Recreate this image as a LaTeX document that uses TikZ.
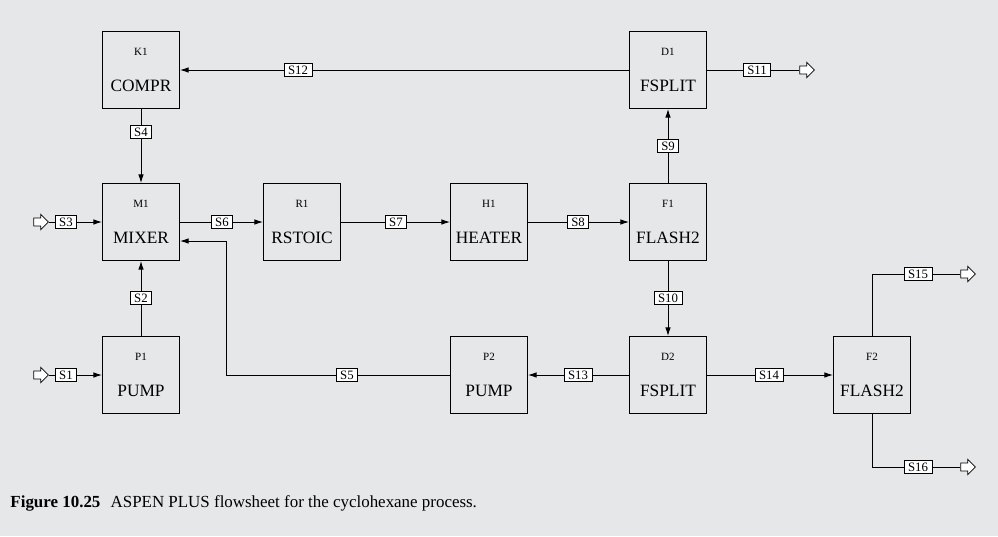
\documentclass[tikz,border=0pt]{standalone}
\usepackage{fontspec}
\setmainfont{Liberation Serif}
\usetikzlibrary{arrows.meta,shapes.arrows,calc}
\definecolor{sheetbg}{RGB}{230,231,233}
\newcommand{\blockid}[1]{{\fontsize{8.3}{9}\selectfont #1}\\[13.5pt]}

\begin{document}
\begin{tikzpicture}[x=0.75pt,y=-0.75pt,>={Latex[length=6.5pt,width=4.2pt]},line width=0.7pt]
  \tikzstyle{unit}=[draw,minimum width=57.75pt,minimum height=57.75pt,align=center,inner sep=0pt,font=\fontsize{13}{14}\selectfont]
  \tikzstyle{stream}=[draw,fill=white,inner xsep=3pt,inner ysep=1.8pt,line width=0.6pt,font=\fontsize{9.6}{10}\selectfont]
  \tikzstyle{feed}=[single arrow,draw,fill=white,line width=0.6pt,minimum height=11pt,inner sep=2.7pt,single arrow head extend=2.7pt]

  \fill[sheetbg] (0,0) rectangle (998,536);
  \useasboundingbox (0,0) rectangle (998,536);

  % unit blocks
  \node[unit] (K1) at (141,70) {\blockid{K1}COMPR};
  \node[unit] (D1) at (668,70) {\blockid{D1}FSPLIT};
  \node[unit] (M1) at (141,222) {\blockid{M1}MIXER};
  \node[unit] (R1) at (302,222) {\blockid{R1}RSTOIC};
  \node[unit] (H1) at (489,222) {\blockid{H1}HEATER};
  \node[unit] (F1) at (668,222) {\blockid{F1}FLASH2};
  \node[unit] (P1) at (141,375) {\blockid{P1}PUMP};
  \node[unit] (P2) at (489,375) {\blockid{P2}PUMP};
  \node[unit] (D2) at (668,375) {\blockid{D2}FSPLIT};
  \node[unit] (F2) at (872,375) {\blockid{F2}FLASH2};

  % feeds and products
  \node[feed] (a3) at (39,222) {};
  \node[feed] (a1) at (39,375) {};
  \node[feed] (a11) at (805,70) {};
  \node[feed] (a15) at (966,274) {};
  \node[feed] (a16) at (966,467) {};

  % stream labels
  \node[stream] (s12) at (298,70) {S12};
  \node[stream] (s11) at (757,70) {S11};
  \node[stream] (s4) at (141,132) {S4};
  \node[stream] (s3) at (66,222) {S3};
  \node[stream] (s6) at (222,222) {S6};
  \node[stream] (s7) at (396,222) {S7};
  \node[stream] (s8) at (578,222) {S8};
  \node[stream] (s9) at (668,146) {S9};
  \node[stream] (s10) at (668,298) {S10};
  \node[stream] (s2) at (141,298) {S2};
  \node[stream] (s1) at (66,375) {S1};
  \node[stream] (s5) at (347,375) {S5};
  \node[stream] (s13) at (578,375) {S13};
  \node[stream] (s14) at (769,375) {S14};
  \node[stream] (s15) at (918,274) {S15};
  \node[stream] (s16) at (918,467) {S16};

  \coordinate (m1in) at ($(M1.east)+(0,19)$);
  \coordinate (m1turn) at ($(m1in)+(46,0)$);

  \draw[->] (D1) -- (s12) -- (K1);
  \draw (D1) -- (s11) -- (a11);
  \draw[->] (K1) -- (s4) -- (M1);
  \draw[->] (a3) -- (s3) -- (M1);
  \draw[->] (M1) -- (s6) -- (R1);
  \draw[->] (R1) -- (s7) -- (H1);
  \draw[->] (H1) -- (s8) -- (F1);
  \draw[->] (F1) -- (s9) -- (D1);
  \draw[->] (F1) -- (s10) -- (D2);
  \draw[->] (P1) -- (s2) -- (M1);
  \draw[->] (a1) -- (s1) -- (P1);
  \draw[->] (D2) -- (s13) -- (P2);
  \draw[->] (D2) -- (s14) -- (F2);
  \draw[->] (P2) -- (s5) -| (m1turn) -- (m1in);
  \draw (F2.north) |- (s15) -- (a15);
  \draw (F2.south) |- (s16) -- (a16);

  \node[anchor=base west,inner sep=0pt,font=\fontsize{12.7}{14}\selectfont] (caption) at (10,507)
    {\textbf{Figure 10.25}\hspace{0.6em}ASPEN PLUS flowsheet for the cyclohexane process.};
\end{tikzpicture}
\end{document}
